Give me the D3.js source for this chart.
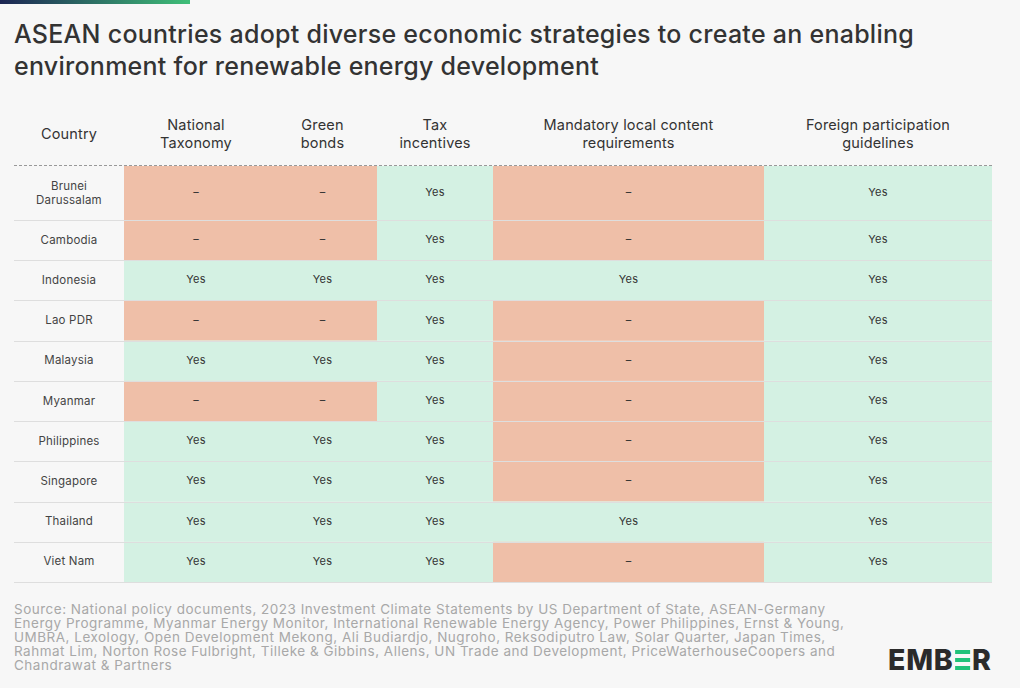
<!DOCTYPE html>
<html>
<head>
<meta charset="utf-8">
<script src="https://cdn.jsdelivr.net/npm/d3@7/dist/d3.min.js"></script>
<style>
  html, body { margin: 0; padding: 0; background: #f7f7f7; }
  svg { display: block; font-family: Inter, "Noto Sans", sans-serif; }
</style>
</head>
<body>
<svg id="chart" width="1020" height="688"></svg>
<script>
const titleLines = [
  "ASEAN countries adopt diverse economic strategies to create an enabling",
  "environment for renewable energy development"
];
const countries = [
  ["Brunei", "Darussalam"], ["Cambodia"], ["Indonesia"], ["Lao PDR"], ["Malaysia"],
  ["Myanmar"], ["Philippines"], ["Singapore"], ["Thailand"], ["Viet Nam"]
];
const columnHeaders = [
  ["Country"],
  ["National", "Taxonomy"],
  ["Green", "bonds"],
  ["Tax", "incentives"],
  ["Mandatory local content", "requirements"],
  ["Foreign participation", "guidelines"]
];
const nationalTaxonomy     = [0, 0, 1, 0, 1, 0, 1, 1, 1, 1];
const greenBonds           = [0, 0, 1, 0, 1, 0, 1, 1, 1, 1];
const taxIncentives        = [1, 1, 1, 1, 1, 1, 1, 1, 1, 1];
const localContent         = [0, 0, 1, 0, 0, 0, 0, 0, 1, 0];
const foreignParticipation = [1, 1, 1, 1, 1, 1, 1, 1, 1, 1];
const seriesValues = [nationalTaxonomy, greenBonds, taxIncentives, localContent, foreignParticipation];
const cellLabels = ["–", "Yes"];
const sourceLines = [
  "Source: National policy documents, 2023 Investment Climate Statements by US Department of State, ASEAN-Germany",
  "Energy Programme, Myanmar Energy Monitor, International Renewable Energy Agency, Power Philippines, Ernst & Young,",
  "UMBRA, Lexology, Open Development Mekong, Ali Budiardjo, Nugroho, Reksodiputro Law, Solar Quarter, Japan Times,",
  "Rahmat Lim, Norton Rose Fulbright, Tilleke & Gibbins, Allens, UN Trade and Development, PriceWaterhouseCoopers and",
  "Chandrawat & Partners"
];

const svg = d3.select("#chart");

// top gradient bar
const defs = svg.append("defs");
const grad = defs.append("linearGradient").attr("id", "topgrad");
grad.append("stop").attr("offset", "0%").attr("stop-color", "#1c2553");
grad.append("stop").attr("offset", "100%").attr("stop-color", "#3fbf78");
svg.append("rect").attr("x", 0).attr("y", 0).attr("width", 190).attr("height", 4).attr("fill", "url(#topgrad)");

// title
svg.append("g").selectAll("text").data(titleLines).join("text")
  .attr("x", 14).attr("y", (d, i) => 42.5 + i * 32)
  .attr("font-size", 25).attr("font-weight", 500).attr("fill", "#333")
  .attr("letter-spacing", 0.26)
  .text(d => d);

// layout
const colEdges = [14, 124, 268, 377, 493, 764, 992];
const tableTop = 166, firstRowH = 54, tableBottom = 582;
const otherH = (tableBottom - tableTop - firstRowH) / (countries.length - 1);
const rowTop = i => i === 0 ? tableTop : tableTop + firstRowH + (i - 1) * otherH;
const rowH = i => i === 0 ? firstRowH : otherH;

const colorScale = d3.scaleOrdinal().domain([0, 1]).range(["#efbfa8", "#d4f1e3"]);

// cells
const cells = [];
seriesValues.forEach((vals, c) => vals.forEach((v, r) => cells.push({ c, r, v })));
const g = svg.append("g");
g.selectAll("rect.cell").data(cells).join("rect")
  .attr("class", "cell")
  .attr("x", d => colEdges[d.c + 1])
  .attr("y", d => rowTop(d.r))
  .attr("width", d => colEdges[d.c + 2] - colEdges[d.c + 1])
  .attr("height", d => rowH(d.r))
  .attr("fill", d => colorScale(d.v));

g.selectAll("text.cell").data(cells).join("text")
  .attr("class", "cell")
  .attr("x", d => (colEdges[d.c + 1] + colEdges[d.c + 2]) / 2)
  .attr("y", d => rowTop(d.r) + rowH(d.r) / 2 + 3)
  .attr("text-anchor", "middle").attr("font-size", 11).attr("fill", "#333")
  .attr("letter-spacing", 0.2)
  .text(d => cellLabels[d.v]);

// row separators
const sepYs = countries.map((d, i) => rowTop(i) + rowH(i)).map(y => Math.round(y) + 0.5);
g.selectAll("line.sep").data(sepYs).join("line")
  .attr("x1", colEdges[0]).attr("x2", colEdges[colEdges.length - 1])
  .attr("y1", d => d).attr("y2", d => d)
  .attr("stroke", "#dedede").attr("stroke-width", 1);

// header dashed line
svg.append("line")
  .attr("x1", colEdges[0]).attr("x2", colEdges[colEdges.length - 1])
  .attr("y1", tableTop - 0.5).attr("y2", tableTop - 0.5)
  .attr("stroke", "#999").attr("stroke-dasharray", "3,2").attr("stroke-width", 1);

// country labels
const cl = svg.append("g").selectAll("text").data(countries).join("text")
  .attr("text-anchor", "middle").attr("font-size", 11.5).attr("fill", "#444")
  .attr("letter-spacing", 0.2);
cl.each(function (d, i) {
  const cy = rowTop(i) + rowH(i) / 2;
  const n = d.length;
  d3.select(this).selectAll("tspan").data(d).join("tspan")
    .attr("x", (colEdges[0] + colEdges[1]) / 2)
    .attr("y", (t, j) => cy + 3.5 + (j - (n - 1) / 2) * 14)
    .text(t => t);
});

// headers
svg.append("g").selectAll("text").data(columnHeaders).join("text")
  .attr("text-anchor", "middle").attr("font-size", 14.5).attr("fill", "#333")
  .attr("letter-spacing", 0.15)
  .each(function (d, i) {
    const cx = (colEdges[i] + colEdges[i + 1]) / 2;
    const n = d.length;
    d3.select(this).selectAll("tspan").data(d).join("tspan")
      .attr("x", cx)
      .attr("y", (t, j) => 139 + (j - (n - 1) / 2) * 18)
      .text(t => t);
  });

// source
svg.append("g").selectAll("text").data(sourceLines).join("text")
  .attr("x", 14).attr("y", (d, i) => 614 + i * 14)
  .attr("font-size", 13.5).attr("fill", "#a8a8a8")
  .attr("letter-spacing", 0.5)
  .text(d => d);

// logo
const logo = svg.append("g").attr("transform", "translate(888,670)");
logo.append("text").attr("x", 0).attr("y", 0).attr("font-size", 28.5).attr("font-weight", 800)
  .attr("letter-spacing", 0.8)
  .attr("fill", "#2b2b2b").attr("font-family", "Inter, sans-serif").text("EMB");
const bw = logo.select("text").node().getComputedTextLength();
const barW = 15, barH = 4;
[-20, -12, -4].forEach(y => logo.append("rect").attr("x", bw + 1.5).attr("y", y).attr("width", barW).attr("height", barH).attr("fill", "#21c27a"));
logo.append("text").attr("x", bw + barW + 3.5).attr("y", 0).attr("font-size", 28.5).attr("font-weight", 800)
  .attr("fill", "#2b2b2b").attr("font-family", "Inter, sans-serif").text("R");
</script>
</body>
</html>
